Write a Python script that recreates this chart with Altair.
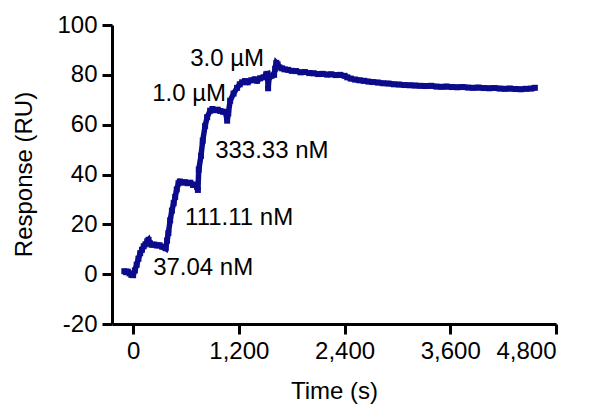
import altair as alt
import pandas as pd

# Sensorgram (single-cycle kinetics)
time_s = [
    -100, -80, -60, -40, -20, 0, 20, 40, 60, 80, 100, 120, 140, 160, 175,
    190, 210, 240, 270, 300, 330, 355, 370,
    385, 400, 420, 440, 460, 477, 495, 515,
    530, 560, 590, 620, 650, 680, 710, 726, 735,
    745, 770, 790, 817, 840, 874,
    900, 930, 960, 990, 1020, 1050, 1067,
    1080, 1101, 1140, 1180, 1210, 1237,
    1270, 1300, 1340, 1380, 1407, 1440, 1480, 1510, 1525, 1532,
    1545, 1570, 1600, 1612, 1625, 1640, 1660, 1690,
    1720, 1760, 1800, 1850, 1900, 1950, 2000, 2050, 2100, 2150, 2200, 2250,
    2300, 2350, 2400, 2430, 2470, 2520, 2570, 2620, 2670, 2720, 2780, 2840,
    2900, 2960, 3020, 3080, 3140, 3200, 3260, 3320, 3380, 3440, 3500, 3560,
    3620, 3680, 3740, 3800, 3860, 3920, 3980, 4040, 4100, 4160, 4220, 4280,
    4340, 4400, 4460, 4520, 4560,
]
response_ru = [
    1.2, 0.8, 1.0, 0.3, -0.3, -0.4, 1.5, 3.8, 6.2, 8.4, 9.8, 11.2, 12.0, 13.2, 13.8,
    12.4, 11.8, 11.9, 11.5, 11.6, 11.0, 10.8, 10.4,
    13.5, 16.5, 21.6, 25.5, 28.5, 31.0, 34.0, 36.5,
    37.2, 36.8, 36.9, 36.5, 36.7, 35.8, 36.0, 35.0, 33.8,
    42.0, 47.5, 53.6, 59.5, 63.0, 65.6,
    66.3, 65.8, 66.0, 65.5, 65.2, 65.0, 61.6,
    64.5, 69.6, 72.5, 74.8, 76.2, 77.0,
    77.5, 77.0, 77.8, 78.2, 77.6, 78.6, 79.0, 80.2, 80.4, 74.6,
    79.2, 79.6, 80.0, 82.5, 84.8, 84.2, 83.0, 82.6,
    82.2, 82.0, 81.6, 81.5, 81.0, 81.1, 80.7, 80.6, 80.3, 80.4, 80.1, 80.2,
    79.9, 80.0, 79.6, 79.0, 78.5, 78.1, 77.8, 77.6, 77.3, 77.1, 76.9, 76.6,
    76.5, 76.2, 76.1, 75.9, 75.8, 75.7, 75.6, 75.5, 75.6, 75.3, 75.2, 75.3,
    75.1, 75.0, 75.1, 74.9, 74.8, 74.9, 74.7, 74.6, 74.7, 74.5, 74.4, 74.5,
    74.3, 74.2, 74.4, 74.5, 74.8,
]

# Concentration labels and where they sit (data coordinates)
label_text = ["3.0 \u00b5M", "1.0 \u00b5M", "333.33 nM", "111.11 nM", "37.04 nM"]
label_time = [647, 216, 931, 590, 227]
label_resp = [83.6, 69.6, 46.8, 19.6, -0.4]

x_ticks = [0, 1200, 2400, 3600, 4800]
y_ticks = [-20, 0, 20, 40, 60, 80, 100]

FONT = "Liberation Sans"
NAVY = "#0b0b8c"
FS = 24

df = pd.DataFrame({"t": time_s, "r": response_ru})
lab = pd.DataFrame({"t": label_time, "r": label_resp, "txt": label_text})

x_enc = alt.X(
    "t:Q",
    scale=alt.Scale(domain=[-240, 4800], nice=False, zero=False),
    axis=alt.Axis(
        values=x_ticks, format=",.0f", title="Time (s)",
        titleY=67, titleBaseline="middle", labelPadding=5,
    ),
)
y_enc = alt.Y(
    "r:Q",
    scale=alt.Scale(domain=[-20, 100], nice=False, zero=False),
    axis=alt.Axis(
        values=y_ticks, title="Response (RU)",
        labelExpr="datum.value < 0 ? '-' + abs(datum.value) : '' + datum.value",
        titleX=-88, titleY=149, titleAlign="center", titleBaseline="middle",
        titleAngle=-90, labelPadding=5,
    ),
)

line = alt.Chart(df).mark_line(color=NAVY, strokeWidth=5.5).encode(x=x_enc, y=y_enc)
pts = alt.Chart(df).mark_point(
    shape="square", filled=True, size=36, color=NAVY, opacity=1
).encode(x="t:Q", y="r:Q")

texts = alt.Chart(lab).mark_text(
    align="left", baseline="alphabetic", font=FONT, fontSize=FS, color="black"
).encode(x="t:Q", y="r:Q", text="txt:N")

chart = (
    alt.layer(line, pts, texts)
    .properties(
        width=444, height=299,
        autosize=alt.AutoSizeParams(type="none"),
        padding={"left": 104, "top": 17, "right": 36, "bottom": 88},
    )
    .configure_view(stroke=None)
    .configure_axis(
        grid=False,
        domainColor="black", domainWidth=3,
        tickColor="black", tickWidth=3, tickSize=10,
        labelFont=FONT, labelFontSize=FS, labelColor="black",
        titleFont=FONT, titleFontSize=FS, titleFontWeight="normal", titleColor="black",
    )
)

chart.save("out.html", embed_options={"renderer": "svg", "actions": False})
